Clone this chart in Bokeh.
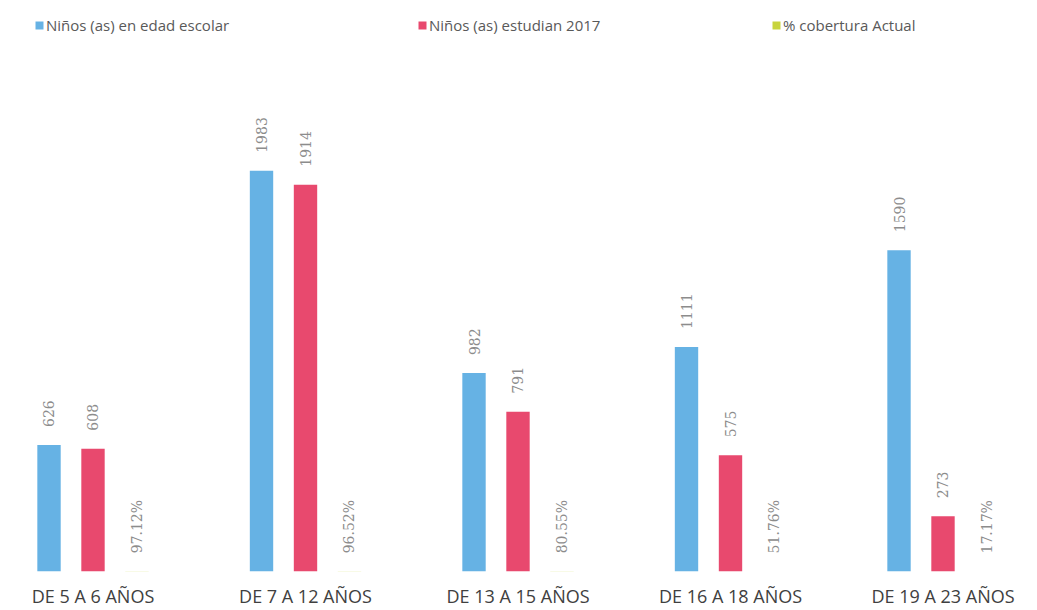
import math
from bokeh.plotting import figure
from bokeh.models import ColumnDataSource, Range1d, FixedTicker, LabelSet, Legend, LegendItem
from bokeh.transform import dodge
from bokeh.core.properties import value
from bokeh.embed import file_html
from bokeh.resources import INLINE

categories = ["DE 5 A 6 AÑOS", "DE 7 A 12 AÑOS", "DE 13 A 15 AÑOS", "DE 16 A 18 AÑOS", "DE 19 A 23 AÑOS"]
edad_escolar = [626, 1983, 982, 1111, 1590]
estudian_2017 = [608, 1914, 791, 575, 273]
cobertura_pct = [97.12, 96.52, 80.55, 51.76, 17.17]

series_names = ["Niños (as) en edad escolar", "Niños (as) estudian 2017", "% cobertura Actual"]
colors = ["#66B2E4", "#E8496E", "#C8D43C"]

idx = list(range(len(categories)))
src = ColumnDataSource(dict(
    x=idx,
    edad=edad_escolar,
    est=estudian_2017,
    cob=[c / 100 for c in cobertura_pct],
    edad_lbl=[str(v) for v in edad_escolar],
    est_lbl=[str(v) for v in estudian_2017],
    cob_lbl=[f"{c:.2f}%" for c in cobertura_pct],
))

p = figure(width=1037, height=610, output_backend="svg", toolbar_location=None,
           x_range=Range1d(-0.4353, 4.4447), y_range=Range1d(0, 2826),
           y_axis_location=None,
           min_border_left=0, min_border_right=0, min_border_top=0, min_border_bottom=0)
p.outline_line_color = None
p.xgrid.visible = False
p.ygrid.visible = False
p.background_fill_color = "white"

off = 0.207
bw = 0.11
fields = ["edad", "est", "cob"]
offsets = [-off, 0.0, off]
renderers = []
for f, o, c in zip(fields, offsets, colors):
    r = p.vbar(x=dodge("x", o, range=p.x_range), top=f, width=bw, bottom=0,
               source=src, fill_color=c, line_color=None)
    renderers.append(r)

for f, o in zip(fields, offsets):
    lbl = LabelSet(x=dodge("x", o, range=p.x_range), y=f, text=f + "_lbl", source=src,
                   angle=math.pi / 2, text_align="left", text_baseline="middle",
                   y_offset=18, text_font=value("DejaVu Serif"), text_font_size="14px",
                   text_color="#8C8C8C")
    p.add_layout(lbl)

ax = p.xaxis[0]
ax.ticker = FixedTicker(ticks=idx)
ax.major_label_overrides = {i: c for i, c in zip(idx, categories)}
ax.axis_line_color = None
ax.major_tick_line_color = None
ax.minor_tick_line_color = None
ax.major_tick_out = 0
ax.major_tick_in = 0
ax.major_label_standoff = 12
ax.major_label_text_font = "Open Sans"
ax.major_label_text_font_size = "18px"
ax.major_label_text_color = "#404040"

leg_locs = [(34, 536), (417, 536), (771, 536)]
for r, name, loc in zip(renderers, series_names, leg_locs):
    leg = Legend(items=[LegendItem(label=name, renderers=[r])], location=loc,
                 padding=0, margin=0, border_line_alpha=0, background_fill_alpha=0,
                 glyph_width=10, glyph_height=10, label_standoff=2,
                 label_text_font="Open Sans", label_text_font_size="15px",
                 label_text_color="#595959")
    p.add_layout(leg)

open("out.html", "w").write(file_html(p, INLINE))
